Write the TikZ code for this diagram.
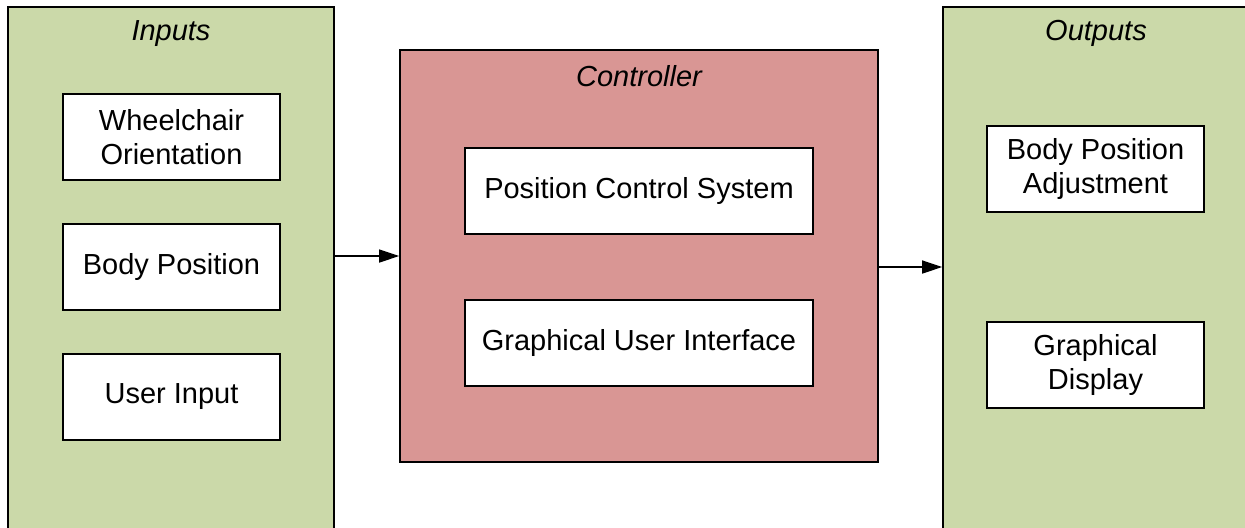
\documentclass[tikz,border=0pt]{standalone}
\usepackage{fontspec}
\setmainfont{Liberation Sans}
\usetikzlibrary{arrows.meta,calc}
\definecolor{panelgreen}{RGB}{203,217,169}
\definecolor{ctrlred}{RGB}{217,150,148}
\tikzset{
  panel/.style={draw=black, line width=0.8pt, fill=panelgreen, inner sep=0pt,
    minimum width=163pt, minimum height=263pt},
  ctrlpanel/.style={draw=black, line width=0.8pt, fill=ctrlred, inner sep=0pt,
    minimum width=239pt, minimum height=206pt},
  unit/.style={draw=black, line width=0.75pt, fill=white, align=center,
    minimum width=108.5pt, minimum height=43pt, inner sep=0pt,
    font=\fontsize{14.5}{17}\selectfont},
  wideunit/.style={unit, minimum width=174pt},
  paneltitle/.style={font=\fontsize{14.5}{17}\selectfont\itshape, inner sep=0pt},
  flow/.style={line width=0.7pt, -{Triangle[length=10pt,width=6.5pt]}}
}
\begin{document}
\begin{tikzpicture}[x=0.5pt,y=-0.5pt]
\useasboundingbox (0,0) rectangle (1245,527);
\clip (0,0) rectangle (1245,527);

% three panels; the side panels run on past the lower edge
\node[panel] (inputs) at (171,270) {};
\node[ctrlpanel] (ctrl) at (639,256) {};
\node[panel] (outputs) at (1106,270) {};

% panel titles
\node[paneltitle] (tin) at ($(inputs.north)+(0,27)$) {Inputs};
\node[paneltitle] (tctrl) at ($(ctrl.north)+(0,27)$) {Controller};
\node[paneltitle] (tout) at ($(outputs.north)+(-10,27)$) {Outputs};

% inputs
\node[unit] (orient) at (171.5,137) {Wheelchair\\Orientation};
\node[unit] (bodypos) at (171.5,267) {Body Position};
\node[unit] (userin) at (171.5,397) {User Input};

% controller
\node[wideunit] (pcs) at (639,191) {Position Control System};
\node[wideunit] (gui) at (639,343) {Graphical User Interface};

% outputs
\node[unit] (adjust) at (1095.5,169) {Body Position\\Adjustment};
\node[unit] (display) at (1095.5,365) {Graphical\\Display};

% data flow
\draw[flow] (ctrl.west -| inputs.east) -- (ctrl.west);
\draw[flow] ($(outputs.west -| ctrl.east)+(0,-3)$) -- ($(outputs.west)+(0,-3)$);
\end{tikzpicture}
\end{document}
